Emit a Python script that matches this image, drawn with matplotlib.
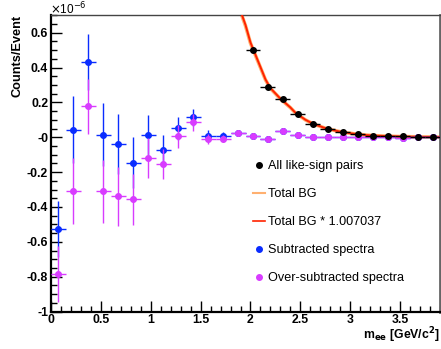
import numpy as np
import matplotlib
matplotlib.use("Agg")
import matplotlib.pyplot as plt
from matplotlib.lines import Line2D
from matplotlib.ticker import MultipleLocator, FixedLocator, FuncFormatter

plt.rcParams['font.family'] = ['Liberation Sans', 'DejaVu Sans']

# bin centres (GeV/c^2), values in units of 1e-6 counts/event
bin_centers = [0.075, 0.225, 0.375, 0.525, 0.675, 0.825, 0.975, 1.125, 1.275,
               1.425, 1.575, 1.725, 1.875, 2.025, 2.175, 2.325, 2.475, 2.625,
               2.775, 2.925, 3.075, 3.225, 3.375, 3.525, 3.675, 3.825]
bin_half_width = 0.075

sub_values = [-0.526, 0.044, 0.434, 0.015, -0.038, -0.146, 0.014, -0.072, 0.051,
              0.114, 0.010, 0.010, 0.025, 0.010, -0.010, 0.034, 0.015, 0.004,
              0.000, 0.000, 0.000, 0.000, 0.004, -0.006, 0.000, 0.000]
sub_errors = [0.16, 0.19, 0.16, 0.18, 0.17, 0.146, 0.114, 0.086, 0.067,
              0.05, 0.03, 0.02, 0.018, 0.015, 0.012, 0.01, 0.008, 0.006,
              0.005, 0.004, 0.003, 0.003, 0.002, 0.002, 0.002, 0.002]

over_values = [-0.785, -0.31, 0.177, -0.31, -0.339, -0.356, -0.118, -0.152, 0.006,
               0.086, -0.009, -0.009, 0.025, 0.010, -0.010, 0.034, 0.015, 0.004,
               0.000, 0.000, 0.000, 0.000, 0.004, -0.006, 0.000, 0.000]
over_errors = sub_errors

like_centers = [2.025, 2.175, 2.325, 2.475, 2.625, 2.775, 2.925, 3.075, 3.225,
                3.375, 3.525, 3.675, 3.825]
like_values = [0.501, 0.29, 0.217, 0.131, 0.076, 0.048, 0.029, 0.019, 0.010,
               0.008, 0.005, 0.003, 0.002]

bg_x = [1.88, 1.90, 1.95, 2.00, 2.05, 2.10, 2.15, 2.20, 2.25, 2.30, 2.35, 2.40,
        2.45, 2.50, 2.55, 2.60, 2.65, 2.70, 2.75, 2.80, 2.85, 2.90, 2.95, 3.00,
        3.05, 3.10, 3.15, 3.20, 3.25, 3.30, 3.35, 3.40, 3.45, 3.50, 3.55, 3.60,
        3.65, 3.70, 3.75, 3.80, 3.85, 3.90]
bg_y = [0.78, 0.72, 0.64, 0.54, 0.47, 0.40, 0.33, 0.28, 0.25, 0.22, 0.195, 0.17,
        0.14, 0.12, 0.10, 0.085, 0.072, 0.062, 0.052, 0.045, 0.038, 0.032, 0.027,
        0.023, 0.019, 0.016, 0.013, 0.011, 0.009, 0.008, 0.007, 0.006, 0.005,
        0.004, 0.004, 0.003, 0.003, 0.002, 0.002, 0.002, 0.001, 0.001]
scale = 1.007037

legend_labels = ["All like-sign pairs", "Total BG", "Total BG * 1.007037",
                 "Subtracted spectra", "Over-subtracted spectra"]

c_blue = "#0a2cff"
c_mag = "#d83cff"
c_red = "#ff2200"
c_orange = "#ffb070"

W, H = 441, 349
fig = plt.figure(figsize=(W / 100, H / 100), dpi=100)
ax = fig.add_axes([51 / W, 1 - 311.5 / H, 389 / W, (311.5 - 15.3) / H])

ax.plot(bg_x, bg_y, color=c_orange, lw=2.6, zorder=2)
ax.plot(bg_x, np.array(bg_y) * scale, color=c_red, lw=1.4, zorder=3)

ax.errorbar(bin_centers, sub_values, yerr=sub_errors, xerr=bin_half_width,
            fmt='o', color=c_blue, ms=4.0, elinewidth=1.0, capsize=0, zorder=4)
ax.errorbar(bin_centers, over_values, yerr=over_errors, xerr=bin_half_width,
            fmt='o', color=c_mag, ms=4.0, elinewidth=1.0, capsize=0, zorder=5,
            ecolor=c_mag)
ax.errorbar(like_centers, like_values, xerr=bin_half_width, fmt='o',
            color='black', ms=4.0, elinewidth=1.0, capsize=0, zorder=6)

ax.set_xlim(0, 3.9)
ax.set_ylim(-1.0, 0.7)

ax.xaxis.set_major_locator(MultipleLocator(0.5))
ax.xaxis.set_minor_locator(MultipleLocator(0.1))
ax.yaxis.set_major_locator(FixedLocator([-1, -0.8, -0.6, -0.4, -0.2, 0, 0.2, 0.4, 0.6]))
ax.yaxis.set_minor_locator(MultipleLocator(0.05))


def yfmt(v, pos):
    if abs(v) < 1e-9:
        return "-0"
    return ("%g" % round(v, 2))


def xfmt(v, pos):
    return "%g" % round(v, 2)


ax.yaxis.set_major_formatter(FuncFormatter(yfmt))
ax.xaxis.set_major_formatter(FuncFormatter(xfmt))

ax.tick_params(which='both', direction='in', top=False, right=False,
               labelsize=8.8, width=1.0)
ax.tick_params(which='major', length=8)
ax.tick_params(which='minor', length=4)
ax.tick_params(axis='x', pad=2)
ax.tick_params(axis='y', pad=2)
for lab in ax.get_xticklabels() + ax.get_yticklabels():
    lab.set_fontweight('bold')

for s in ['left', 'bottom']:
    ax.spines[s].set_linewidth(1.6)
ax.spines['top'].set_linewidth(1.0)
ax.spines['top'].set_color('#444444')
ax.spines['right'].set_linewidth(2.0)
ax.spines['right'].set_color('#666666')

fig.text(18 / W, 1 - 15 / H, "Counts/Event", rotation=90, ha='center', va='top',
         fontsize=9.2, fontweight='bold')
fig.text(440 / W, 1 - 339 / H, r"m$_{\mathbf{ee}}$ [GeV/c$^{\mathbf{2}}$]", ha='right',
         va='baseline', fontsize=8.8, fontweight='bold')
fig.text(50 / W, 1 - 14 / H, r"$\times$10$^{-6}$", ha='left', va='baseline',
         fontsize=8.5)

handles = [
    Line2D([], [], ls='none', marker='o', color='black', ms=4),
    Line2D([], [], color=c_orange, lw=1.5),
    Line2D([], [], color=c_red, lw=1.2),
    Line2D([], [], ls='none', marker='o', color=c_blue, ms=4),
    Line2D([], [], ls='none', marker='o', color=c_mag, ms=4),
]
leg = ax.legend(handles, legend_labels, loc='upper left',
                bbox_to_anchor=(253 / W, 1 - 160 / H), bbox_transform=fig.transFigure,
                frameon=False, fontsize=9.1, handlelength=0.95, handletextpad=0.25,
                labelspacing=1.27, borderpad=0, borderaxespad=0)

fig.savefig("out.png", dpi=100)
